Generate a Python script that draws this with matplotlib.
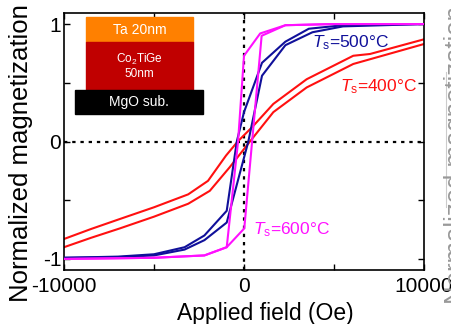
import numpy as np
import matplotlib
matplotlib.use("Agg")
from matplotlib import pyplot as plt
from matplotlib.patches import Rectangle

plt.rcParams['font.family'] = ['Liberation Sans', 'DejaVu Sans']
plt.rcParams['mathtext.fontset'] = 'custom'
plt.rcParams['mathtext.rm'] = 'Liberation Sans'
plt.rcParams['mathtext.it'] = 'Liberation Sans:italic'

# Ts = 400 C  (down = sweep from +H to -H, up = sweep from -H to +H)
h400_down = [10000, 7000, 6070, 3480, 1630, 500, -350, -1000, -2000, -3100, -5000, -6900, -8500, -10000]
m400_down = [0.87, 0.745, 0.73, 0.53, 0.32, 0.13, 0.0, -0.12, -0.335, -0.45, -0.56, -0.66, -0.745, -0.83]
h400_up = [-10000, -8500, -6900, -5000, -3100, -1900, -800, 330, 1630, 3480, 6070, 10000]
m400_up = [-0.90, -0.82, -0.74, -0.64, -0.53, -0.42, -0.22, 0.0, 0.25, 0.46, 0.66, 0.83]

# Ts = 500 C
h500_down = [10000, 5500, 3600, 2300, 1000, 0, -400, -960, -2200, -3300, -5000, -7000, -10000]
m500_down = [1.0, 0.99, 0.96, 0.85, 0.67, 0.25, 0.0, -0.59, -0.80, -0.90, -0.96, -0.98, -0.99]
h500_up = [-10000, -7000, -5000, -3300, -2200, -960, 240, 1000, 2300, 3800, 5500, 10000]
m500_up = [-0.99, -0.985, -0.97, -0.92, -0.84, -0.69, 0.0, 0.56, 0.82, 0.93, 0.98, 1.0]

# Ts = 600 C
h600_down = [10000, 5000, 2300, 900, 0, -330, -960, -2200, -5000, -10000]
m600_down = [1.0, 1.0, 0.99, 0.92, 0.73, 0.0, -0.90, -0.97, -0.99, -1.0]
h600_up = [-10000, -5000, -2200, -960, 15, 450, 980, 2300, 5000, 10000]
m600_up = [-1.0, -0.99, -0.97, -0.90, -0.74, 0.0, 0.90, 0.99, 1.0, 1.0]

c400 = '#ff1010'
c500 = '#10109a'
c600 = '#ff10ff'

fig = plt.figure(figsize=(4.52, 3.24), dpi=100)
ax = fig.add_axes([64 / 452, 54 / 324, 360 / 452, 257 / 324])

# zero guide lines
ax.axhline(0, color='black', lw=1.6, ls=(0, (1.5, 2.2)), zorder=1)
ax.axvline(0, color='black', lw=1.6, ls=(0, (1.5, 2.2)), zorder=1)

ax.plot(h400_down, m400_down, color=c400, lw=1.5, zorder=2)
ax.plot(h400_up, m400_up, color=c400, lw=1.5, zorder=2)
ax.plot(h500_down, m500_down, color=c500, lw=1.5, zorder=3)
ax.plot(h500_up, m500_up, color=c500, lw=1.5, zorder=3)
ax.plot(h600_down, m600_down, color=c600, lw=1.5, zorder=4)
ax.plot(h600_up, m600_up, color=c600, lw=1.5, zorder=4)

ax.text(3780, 0.84, r'$\mathit{T}_{\mathrm{s}}$=500°C', color=c500, fontsize=12.5, va='center')
ax.text(5330, 0.47, r'$\mathit{T}_{\mathrm{s}}$=400°C', color=c400, fontsize=12.5, va='center')
ax.text(500, -0.75, r'$\mathit{T}_{\mathrm{s}}$=600°C', color=c600, fontsize=12.5, va='center')

# layer stack inset
tr = ax.transAxes
ax.add_patch(Rectangle((0.061, 0.887), 0.297, 0.097, transform=tr, color='#ff8000', zorder=5))
ax.add_patch(Rectangle((0.061, 0.700), 0.297, 0.187, transform=tr, color='#c00000', zorder=5))
ax.add_patch(Rectangle((0.031, 0.607), 0.355, 0.093, transform=tr, color='black', zorder=5))
ax.text(0.2095, 0.935, 'Ta 20nm', transform=tr, color='white', fontsize=10, ha='center', va='center', zorder=6)
ax.text(0.2095, 0.795, 'Co$_2$TiGe\n50nm', transform=tr, color='white', fontsize=8.5, ha='center', va='center',
        linespacing=1.1, zorder=6)
ax.text(0.2085, 0.652, 'MgO sub.', transform=tr, color='white', fontsize=10, ha='center', va='center', zorder=6)

ax.set_xlim(-10000, 10000)
ax.set_ylim(-1.094, 1.094)
ax.set_xticks([-10000, 0, 10000])
ax.set_xticks([-5000, 5000], minor=True)
ax.set_xticklabels(['-10000', '0', '10000'])
ax.set_yticks([-1, 0, 1])
ax.set_yticks([-0.5, 0.5], minor=True)
ax.set_yticklabels(['-1', '0', '1'])
ax.tick_params(which='both', direction='in', top=True, right=True, length=4, width=1)
ax.tick_params(axis='x', labelsize=15, pad=5)
ax.tick_params(axis='y', labelsize=15, pad=2)
for s in ax.spines.values():
    s.set_linewidth(1.2)

ax.set_xlabel('Applied field (Oe)', fontsize=16.5)
ax.xaxis.set_label_coords(0.56, -0.125)
ax.set_ylabel('Normalized magnetization', fontsize=18.5)
ax.yaxis.set_label_coords(-0.086, 0.455)

# edge of the neighbouring panel, cut off by the crop
fig.text(444 / 452, 0.52, 'Normalized magnetization', rotation=90, fontsize=18.5, color='#999999',
         ha='left', va='center')
fig.add_artist(plt.Line2D([446 / 452, 446 / 452], [1 - 207 / 324, 1 - 72 / 324], color='#cccccc', lw=0.8))

fig.savefig('out.png', dpi=100)
